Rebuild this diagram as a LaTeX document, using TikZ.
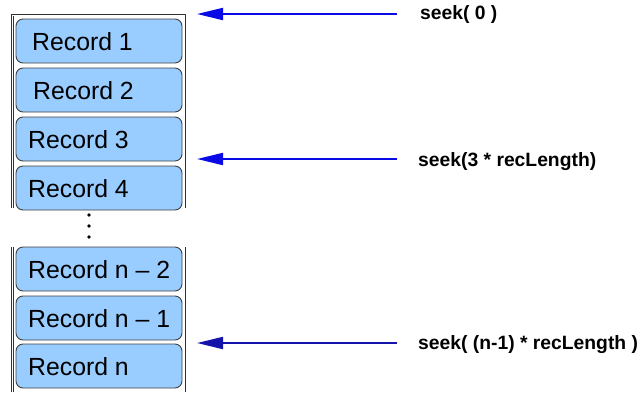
\documentclass[tikz,border=0pt]{standalone}
\usepackage{fontspec}
\setmainfont{Liberation Sans}
\usetikzlibrary{arrows.meta}
\definecolor{recfill}{RGB}{153,204,255}
\definecolor{arrblue}{RGB}{10,10,230}
\definecolor{arrnavy}{RGB}{20,20,170}
\begin{document}
\begin{tikzpicture}[x=1pt,y=-1pt,
  rec/.style={draw=black!75,line width=0.9pt,fill=recfill,rounded corners=7pt,minimum width=166pt,minimum height=44pt,inner sep=0pt},
  rectext/.style={font=\fontsize{24.8}{28}\selectfont,anchor=west,inner sep=0pt},
  seektext/.style={font=\bfseries\fontsize{19.3}{22}\selectfont,anchor=west,inner sep=0pt},
  seekarrow/.style={line width=2pt,-{Triangle[length=26pt,width=12pt]}},
  wall/.style={draw=black!80,line width=1pt}]
\useasboundingbox (0,0) rectangle (641,392);
% container walls
\draw[wall] (11,208) -- (11,14.5) -- (185,14.5) -- (185,208);
\draw[wall] (13.5,208) -- (13.5,16);
\draw[wall] (11,247) -- (11,392);
\draw[wall] (13.5,247) -- (13.5,392);
\draw[wall] (185,247) -- (185,392);
% records
\node[rec] (r1) at (99,41) {};
\node[rec] (r2) at (99,90) {};
\node[rec] (r3) at (99,139) {};
\node[rec] (r4) at (99,188) {};
\node[rec] (rn2) at (99,269) {};
\node[rec] (rn1) at (99,318) {};
\node[rec] (rn) at (99,366) {};
\node[rectext] (t1) at (32,42) {Record 1};
\node[rectext] (t2) at (33,91) {Record 2};
\node[rectext] (t3) at (28,140) {Record 3};
\node[rectext] (t4) at (28,189) {Record 4};
\node[rectext] (tn2) at (28,270) {Record n – 2};
\node[rectext] (tn1) at (28,319) {Record n – 1};
\node[rectext] (tn) at (28,367) {Record n};
% dots
\fill (89,215) circle (1.8pt);
\fill (89,226) circle (1.8pt);
\fill (89,237) circle (1.8pt);
% seek labels
\node[seektext] (s0) at (420,15) {seek( 0 )};
\node[seektext] (s3) at (418,162) {seek(3 * recLength)};
\node[seektext] (sn) at (418,345) {seek( (n-1) * recLength )};
\coordinate (a0s) at (397,14);
\coordinate (a0e) at (197,14);
\coordinate (a3s) at (397,159);
\coordinate (a3e) at (197,159);
\coordinate (ans) at (397,343);
\coordinate (ane) at (197,343);
\draw[seekarrow,draw=arrblue,fill=arrblue] (a0s) -- (a0e);
\draw[seekarrow,draw=arrblue,fill=arrblue] (a3s) -- (a3e);
\draw[seekarrow,draw=arrnavy,fill=arrnavy] (ans) -- (ane);
\end{tikzpicture}
\end{document}
